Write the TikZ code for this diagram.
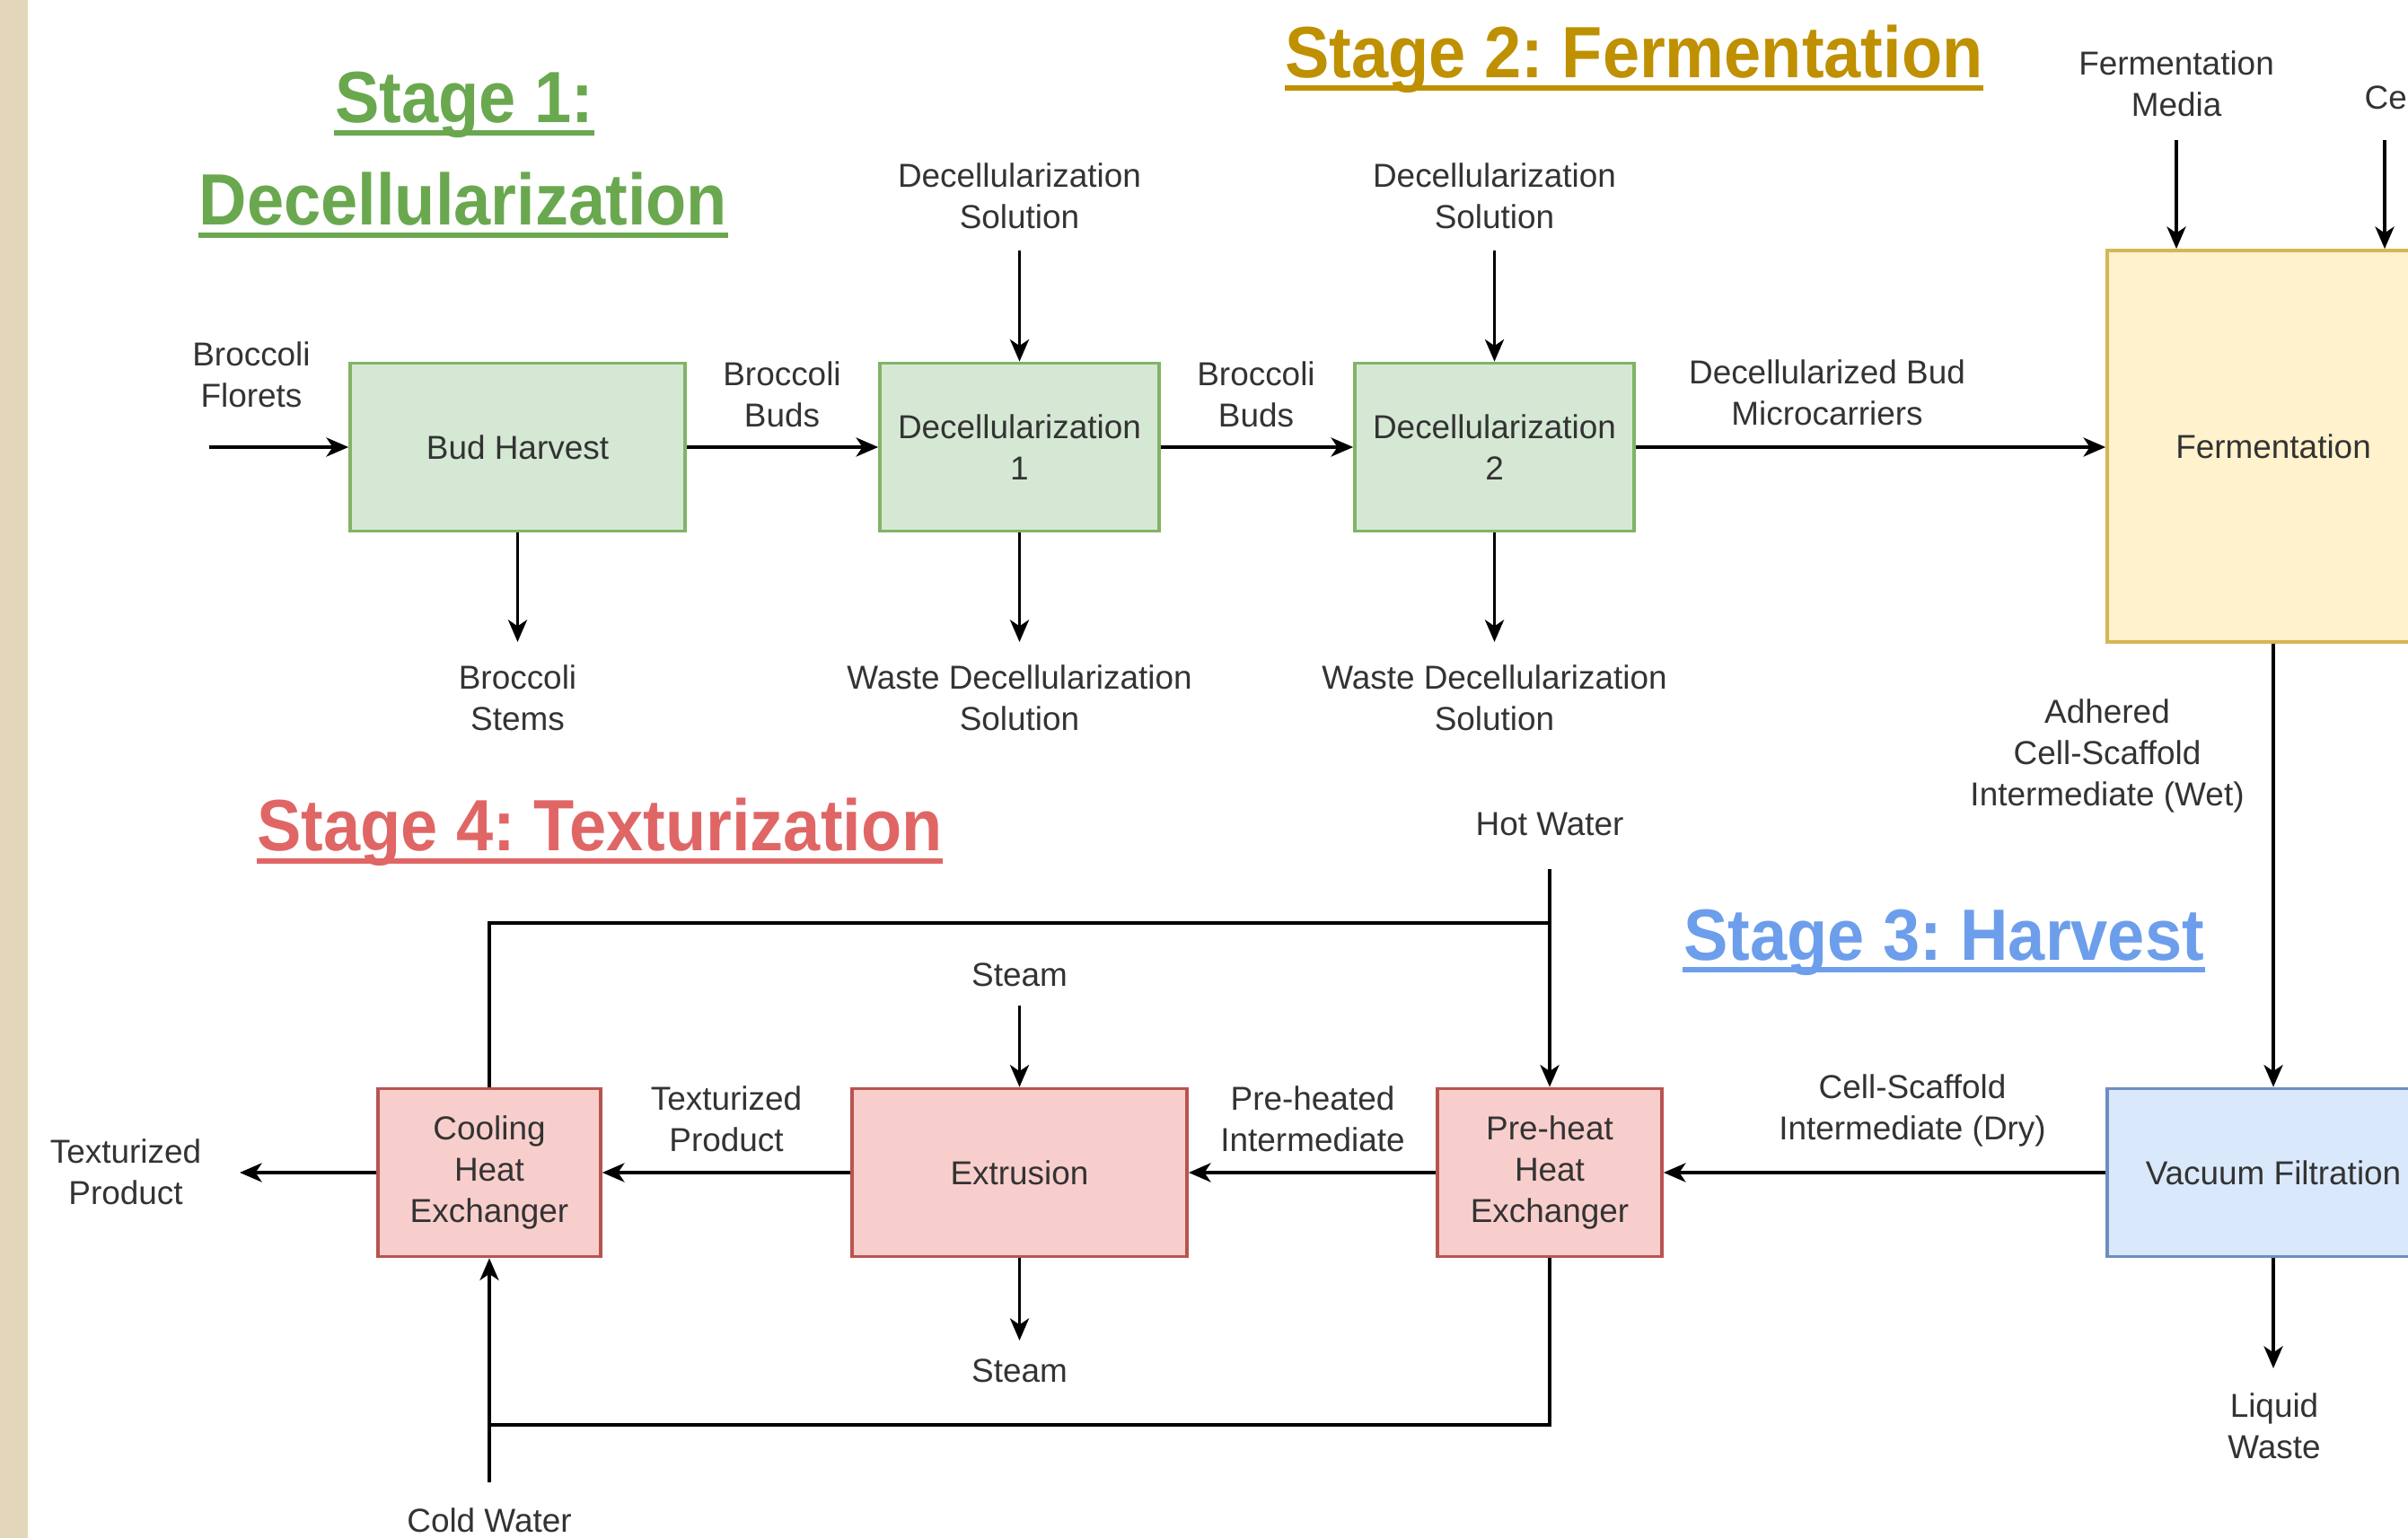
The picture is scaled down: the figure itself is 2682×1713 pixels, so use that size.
\documentclass[tikz,border=0pt]{standalone}
\usepackage{fontspec}
\setmainfont{Liberation Sans}
\usetikzlibrary{arrows.meta}
\definecolor{txt}{HTML}{333333}
\definecolor{gfill}{HTML}{D5E8D4}\definecolor{gdraw}{HTML}{82B366}
\definecolor{yfill}{HTML}{FFF2CC}\definecolor{ydraw}{HTML}{D6B656}
\definecolor{bfill}{HTML}{DAE8FC}\definecolor{bdraw}{HTML}{6C8EBF}
\definecolor{rfill}{HTML}{F8CECC}\definecolor{rdraw}{HTML}{B85450}
\definecolor{sone}{HTML}{6AA84F}\definecolor{stwo}{HTML}{BF9000}
\definecolor{sthree}{HTML}{6D9EEB}\definecolor{sfour}{HTML}{E06666}
\definecolor{beige}{HTML}{E3D6BA}
\newcommand{\ttltext}[1]{\scalebox{0.915}[1]{#1}}
\frenchspacing
\begin{document}
\begin{tikzpicture}[x=0.01cm,y=-0.01cm,
  lbl/.style={font=\fontsize{10.5}{13.1}\selectfont, text=txt, align=center, inner sep=0pt},
  box/.style={draw, line width=1pt, font=\fontsize{10.5}{13.1}\selectfont, text=txt, align=center, inner sep=0pt, minimum height=1.87cm},
  gbox/.style={box, fill=gfill, draw=gdraw},
  ybox/.style={box, fill=yfill, draw=ydraw},
  bbox/.style={box, fill=bfill, draw=bdraw},
  rbox/.style={box, fill=rfill, draw=rdraw},
  flow/.style={line width=1pt, -{Stealth[length=7pt,width=6pt,inset=2pt]}},
  pipe/.style={line width=1pt},
  ttl/.style={font=\fontsize{23}{27}\selectfont\bfseries, inner sep=0pt, anchor=base},
  uline/.style={line width=1.7pt}
]
\useasboundingbox (0,0) rectangle (2682,1713);
\clip (0,0) rectangle (2682,1713);
\fill[white] (0,0) rectangle (2682,1713);
\fill[beige] (0,0) rectangle (31,1713);

% ---- titles
\node[ttl, text=sone] (t1a) at (517,137) {\ttltext{Stage 1:}};
\draw[uline, sone] ([yshift=-3pt]t1a.base west) -- ([yshift=-3pt]t1a.base east);
\node[ttl, text=sone] (t1b) at (516,251) {\ttltext{Decellularization}};
\draw[uline, sone] ([yshift=-3pt]t1b.base west) -- ([yshift=-3pt]t1b.base east);
\node[ttl, text=stwo] (t2) at (1820,87) {\ttltext{Stage 2: Fermentation}};
\draw[uline, stwo] ([yshift=-3pt]t2.base west) -- ([yshift=-3pt]t2.base east);
\node[ttl, text=sthree] (t3) at (2165,1069) {\ttltext{Stage 3: Harvest}};
\draw[uline, sthree] ([yshift=-3pt]t3.base west) -- ([yshift=-3pt]t3.base east);
\node[ttl, text=sfour] (t4) at (668,948) {\ttltext{Stage 4: Texturization}};
\draw[uline, sfour] ([yshift=-3pt]t4.base west) -- ([yshift=-3pt]t4.base east);

% ---- boxes
\node[gbox, minimum width=3.73cm] (bh) at (576.5,498) {Bud Harvest};
\node[gbox, minimum width=3.11cm] (d1) at (1135.5,498) {Decellularization\\1};
\node[gbox, minimum width=3.11cm] (d2) at (1664.5,498) {Decellularization\\2};
\node[ybox, minimum width=3.70cm, minimum height=4.36cm] (fer) at (2532,497) {Fermentation};
\node[bbox, minimum width=3.70cm] (vac) at (2532,1306) {Vacuum Filtration};
\node[rbox, minimum width=2.50cm] (ph) at (1726,1306) {Pre-heat\\Heat\\Exchanger};
\node[rbox, minimum width=3.73cm] (ext) at (1135.5,1306) {Extrusion};
\node[rbox, minimum width=2.48cm] (cool) at (545,1306) {Cooling\\Heat\\Exchanger};

% ---- free ends
\coordinate (florIn) at (233,498);
\coordinate (stemOut) at (576.5,715);
\coordinate (s1In) at (1135.5,279);
\coordinate (w1Out) at (1135.5,715);
\coordinate (s2In) at (1664.5,279);
\coordinate (w2Out) at (1664.5,715);
\coordinate (fmIn) at (2424,156);
\coordinate (ceIn) at (2656,156);
\coordinate (lwOut) at (2532,1524);
\coordinate (hwIn) at (1726,968);
\coordinate (hwJ) at (1726,1028);
\coordinate (stIn) at (1135.5,1120);
\coordinate (stOut) at (1135.5,1493);
\coordinate (tpOut) at (267,1306);
\coordinate (cwIn) at (545,1651);
\coordinate (cwJ) at (545,1587);

% ---- labels
\node[lbl] (lFlor) at (280,417) {Broccoli\\Florets};
\node[lbl] (lBuds1) at (871,439) {Broccoli\\Buds};
\node[lbl] (lBuds2) at (1399,439) {Broccoli\\Buds};
\node[lbl] (lSol1) at (1135.5,218) {Decellularization\\Solution};
\node[lbl] (lSol2) at (1664.5,218) {Decellularization\\Solution};
\node[lbl] (lW1) at (1135.5,777) {Waste Decellularization\\Solution};
\node[lbl] (lW2) at (1664.5,777) {Waste Decellularization\\Solution};
\node[lbl] (lStem) at (576.5,777) {Broccoli\\Stems};
\node[lbl] (lMicro) at (2035,437) {Decellularized Bud\\Microcarriers};
\node[lbl] (lMedia) at (2424,93) {Fermentation\\Media};
\node[lbl, anchor=west] (lCells) at (2633,108) {Cells};
\node[lbl] (lWet) at (2347,842) {Adhered\\Cell-Scaffold\\Intermediate (Wet)};
\node[lbl] (lDry) at (2130,1237) {Cell-Scaffold\\Intermediate (Dry)};
\node[lbl] (lLiq) at (2533,1588) {Liquid\\Waste};
\node[lbl] (lHot) at (1726,918) {Hot Water};
\node[lbl] (lSt1) at (1135.5,1086) {Steam};
\node[lbl] (lSt2) at (1135.5,1527) {Steam};
\node[lbl] (lPre) at (1462,1246) {Pre-heated\\Intermediate};
\node[lbl] (lTex1) at (809,1246) {Texturized\\Product};
\node[lbl] (lTex2) at (140,1305) {Texturized\\Product};
\node[lbl] (lCold) at (545,1693) {Cold Water};

% ---- connectors
\draw[flow] (florIn) -- (bh.west);
\draw[flow] (bh.east) -- (d1.west);
\draw[flow] (d1.east) -- (d2.west);
\draw[flow] (d2.east) -- (d2.east -| fer.west);
\draw[flow] (bh.south) -- (stemOut);
\draw[flow] (s1In) -- (d1.north);
\draw[flow] (d1.south) -- (w1Out);
\draw[flow] (s2In) -- (d2.north);
\draw[flow] (d2.south) -- (w2Out);
\draw[flow] (fmIn) -- (fmIn |- fer.north);
\draw[flow] (ceIn) -- (ceIn |- fer.north);
\draw[flow] (fer.south) -- (vac.north);
\draw[flow] (vac.west) -- (ph.east);
\draw[flow] (vac.south) -- (lwOut);
\draw[flow] (ph.west) -- (ext.east);
\draw[flow] (ext.west) -- (cool.east);
\draw[flow] (cool.west) -- (tpOut);
\draw[flow] (hwIn) -- (ph.north);
\draw[pipe] (cool.north) |- (hwJ);
\draw[flow] (stIn) -- (ext.north);
\draw[flow] (ext.south) -- (stOut);
\draw[pipe] (ph.south) |- (cwJ);
\draw[flow] (cwIn) -- (cool.south);
\end{tikzpicture}
\end{document}
